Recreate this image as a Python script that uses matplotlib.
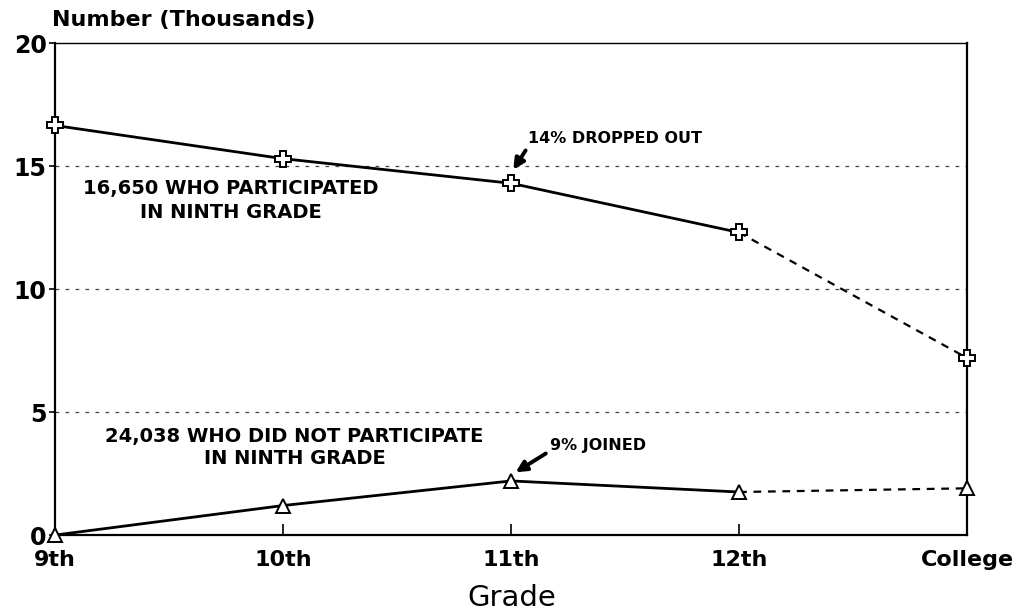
import numpy as np
import matplotlib.pyplot as plt

plt.rcParams['font.family'] = ['DejaVu Sans']

grades = ["9th", "10th", "11th", "12th", "College"]
participated = [16.65, 15.3, 14.3, 12.3, 7.2]
not_participated = [0.0, 1.2, 2.2, 1.75, 1.9]
y_ticks = [0, 5, 10, 15, 20]

x = np.arange(len(grades))

fig = plt.figure(figsize=(10.19, 6.15), dpi=100)
ax = fig.add_axes([0.054, 0.13, 0.895, 0.80])

# grid lines at 5, 10, 15
for g in y_ticks[1:-1]:
    ax.axhline(g, color="#444444", lw=0.9, ls=(0, (3, 5)), zorder=1)

for series, mk, ms in [(participated, "P", 11), (not_participated, "^", 10)]:
    ax.plot(x[:4], series[:4], color="black", lw=2, zorder=3)
    ax.plot(x[3:], series[3:], color="black", lw=1.6, ls=(0, (3.5, 3)), zorder=3)
    ax.plot(x, series, ls="none", marker=mk, ms=ms, mfc="white", mec="black",
            mew=1.4, zorder=4, clip_on=False)

ax.set_xlim(0, 4)
ax.set_ylim(0, 20)
ax.set_xticks(x)
ax.set_xticklabels(grades, fontsize=16, fontweight="bold")
ax.set_yticks(y_ticks)
ax.set_yticklabels([str(v) for v in y_ticks], fontsize=17, fontweight="bold")
ax.tick_params(axis="x", direction="in", length=8, width=1.2, pad=11)
ax.tick_params(axis="y", direction="out", length=4, width=1.2, pad=2)
for s in ax.spines.values():
    s.set_linewidth(1.6)
ax.spines["top"].set_linewidth(1.0)

fig.text(512 / 1019, 1 - 598 / 615, "Grade", fontsize=21, ha="center", va="center")
fig.text(0.051, 0.967, "Number (Thousands)", fontsize=16, fontweight="bold",
         va="center", ha="left")

tk = dict(fontsize=14, fontweight="bold", ha="center", va="center")
ax.text(0.77, 14.1, "16,650 WHO PARTICIPATED", **tk)
ax.text(0.77, 13.1, "IN NINTH GRADE", **tk)
ax.text(1.05, 4.0, "24,038 WHO DID NOT PARTICIPATE", **tk)
ax.text(1.05, 3.1, "IN NINTH GRADE", **tk)

ap = dict(arrowstyle="-|>", color="black", lw=2.8, mutation_scale=16)
ax.annotate("14% DROPPED OUT", xy=(2.01, 14.85), xytext=(2.075, 16.1),
            fontsize=11.5, fontweight="bold", ha="left", va="center",
            arrowprops=dict(ap, shrinkA=1, shrinkB=0, relpos=(0, 0)))
ax.annotate("9% JOINED", xy=(2.02, 2.55), xytext=(2.17, 3.66),
            fontsize=11.5, fontweight="bold", ha="left", va="center",
            arrowprops=dict(ap, shrinkA=1, shrinkB=0, relpos=(0, 0.1)))

fig.savefig("out.png", dpi=100)
